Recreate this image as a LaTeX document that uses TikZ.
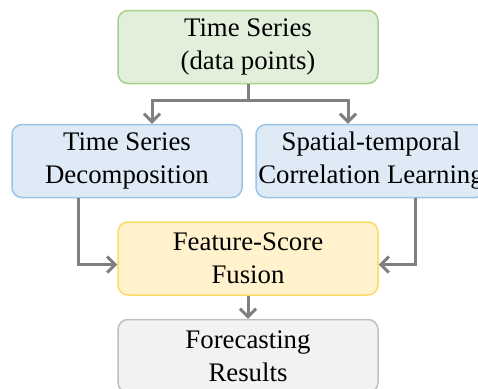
\documentclass[tikz,border=0pt]{standalone}
\usepackage{fontspec}
\setmainfont{Liberation Serif}
\usepackage{tikz}
\usetikzlibrary{arrows.meta,positioning,calc}
\definecolor{inputgreen}{HTML}{A9D18E}
\definecolor{softgreen}{HTML}{E2EFDA}
\definecolor{branchblue}{HTML}{9DC3E6}
\definecolor{softblue}{HTML}{DEEBF7}
\definecolor{fusegold}{HTML}{FFD966}
\definecolor{softyellow}{HTML}{FFF2CC}
\definecolor{resultgray}{HTML}{BFBFBF}
\definecolor{softgray}{HTML}{F2F2F2}
\definecolor{linegray}{HTML}{7F7F7F}
\tikzset{
  stage/.style={
    rectangle,
    rounded corners=5pt,
    line width=0.75pt,
    align=center,
    minimum height=36.5pt,
    minimum width=130pt,
    inner sep=0pt,
    font=\fontsize{13.4}{16.5}\selectfont
  },
  inputbox/.style={stage, draw=inputgreen, fill=softgreen},
  branch/.style={stage, draw=branchblue, fill=softblue, minimum width=115pt},
  fusebox/.style={stage, draw=fusegold, fill=softyellow},
  resultbox/.style={stage, draw=resultgray, fill=softgray},
  line/.style={-{Straight Barb[length=4pt,width=8pt]}, line width=1.5pt, draw=linegray}
}
\begin{document}
\begin{tikzpicture}
  \useasboundingbox (0,0) rectangle (239pt,-194pt);
  \clip (0,0) rectangle (239pt,-194pt);

  \node[inputbox] (series) at (124pt,-23.5pt) {Time Series\\(data points)};
  \node[branch] (decomp) at (63.5pt,-80.5pt) {Time Series\\Decomposition};
  \node[branch] (corr) at (185.5pt,-80.5pt) {Spatial-temporal\\Correlation Learning};
  \node[fusebox, below=11.5pt of series.south |- decomp.south] (fusion) {Feature-Score\\Fusion};
  \node[resultbox, below=11.5pt of fusion] (result) {Forecasting\\Results};

  \draw[line] (series.south) -- ++(0,-8pt) -| ([xshift=12.5pt]decomp.north);
  \draw[line] (series.south) -- ++(0,-8pt) -| ([xshift=-11.5pt]corr.north);
  \draw[line] ([xshift=-24.5pt]decomp.south) |- ([yshift=-3pt]fusion.west);
  \draw[line] ([xshift=22pt]corr.south) |- ([yshift=-3pt]fusion.east);
  \draw[line] (fusion) -- (result);
\end{tikzpicture}
\end{document}
